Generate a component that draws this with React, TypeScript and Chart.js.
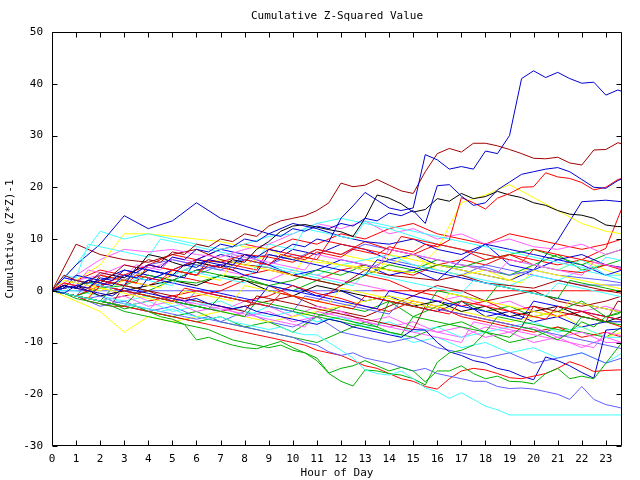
import { useEffect, useRef } from 'react';
import { Chart, registerables } from 'chart.js';

Chart.register(...registerables);

// ---------- DATA ----------
const fineHours = [0, 0.5, 1, 1.5, 2, 2.5, 3, 3.5, 4, 4.5, 5, 5.5, 6, 6.5, 7, 7.5, 8, 8.5, 9, 9.5, 10, 10.5, 11, 11.5,
  12, 12.5, 13, 13.5, 14, 14.5, 15, 15.5, 16, 16.5, 17, 17.5, 18, 18.5, 19, 19.5, 20, 20.5, 21, 21.5, 22, 22.5, 23, 23.5, 23.67];
const coarseHours = [0, 1, 2, 3, 4, 5, 6, 7, 8, 9, 10, 11, 12, 13, 14, 15, 16, 17, 18, 19, 20, 21, 22, 23, 23.67];

const topBlue = [0, 1, 0.5, 2, 1.5, 1, 3, 2.5, 4, 3.5, 3, 5, 4.5, 6, 5.5, 5, 7, 6.5, 8, 7.5, 9, 8.5, 10, 9.5,
  14, 16.4, 19, 17.5, 16, 15.5, 16, 26.3, 25.3, 23.5, 24, 23.5, 27, 26.5, 30, 41, 42.5, 41.2, 42.2, 41, 40.1, 40.3, 37.8, 38.8, 38.5];
const topDarkRed = [0, 3, 2, 1.5, 3.5, 3, 5, 4.5, 6, 5.5, 7.5, 7, 9, 8.5, 10, 9.5, 11, 10.5, 12.5, 13.5, 14, 14.5, 15.5, 17,
  20.8, 20.1, 20.4, 21.5, 20.4, 19.3, 18.8, 23, 26.5, 27.5, 26.8, 28.5, 28.5, 28, 27.3, 26.5, 25.6, 25.5, 25.8, 24.7, 24.3, 27.2, 27.3, 28.6, 28.4];
const upperBlue = [0, -0.5, 1, 0.5, 2.5, 2, 4, 3.5, 5, 4.5, 6.5, 6, 8, 7.5, 9, 8.5, 10, 9.5, 11, 10.5, 12, 11.5, 12.5, 12,
  13, 12.5, 14, 13.5, 15, 14.5, 15.5, 13, 20.3, 20.5, 18.3, 16.5, 17, 19.5, 21, 22.5, 23, 23.5, 23.8, 23, 21.5, 20, 19.8, 21.3, 21.6];
const upperRed = [0, 1.5, 1, 0.5, 2, 1.5, 1, 3, 2.5, 2, 4, 3.5, 3, 5, 4.5, 4, 6, 5.5, 5, 7, 6.5, 6, 7.5, 7,
  6.5, 8, 7.5, 7, 8.5, 8, 7.5, 9, 8.5, 9.8, 18, 17, 15.8, 17.9, 18.8, 20, 20.1, 22.8, 22, 21.7, 20.9, 19.5, 20, 21.5, 21.7];
const upperBlack = [0, 1, 0.5, 2, 1.5, 3, 2.5, 4, 7, 6.5, 5.5, 4.8, 5.5, 5, 4.5, 6, 5.5, 8, 9.5, 11.5, 12.5, 12.8, 12.3, 11.8,
  11.4, 10.5, 14, 18.5, 17.9, 16.8, 15.2, 15.7, 17.8, 17.3, 18.8, 17.8, 18.2, 19.2, 18.5, 18, 17, 16.5, 15.5, 14.8, 14.6, 14, 12.7, 12.4, 12.4];
const lowCyan = [0, -0.5, -1, -1.5, -2, -1.5, -2.5, -3, -3.5, -4, -3.5, -4.5, -5, -5.5, -5, -6, -6.5, -7, -7.5, -7, -8, -8.5, -8.5, -10,
  -11.5, -13, -15.3, -16, -16.3, -15.5, -17, -18.8, -19.5, -20.8, -19.7, -21, -22.3, -23, -24, -24, -24, -24, -24, -24, -24, -24, -24, -24, -24];
const lowGreenA = [0, -0.5, -1, -1.5, -2, -2.5, -3.5, -3, -4, -5, -5.5, -6.5, -7, -7.5, -8.5, -9.5, -10, -10.5, -11, -10.5, -11.5, -12, -13.5, -16,
  -17.5, -18.4, -15.3, -15.5, -16, -16.3, -17, -18.2, -13.8, -12, -11.5, -10.5, -8, -8.5, -9, -7, -7.5, -8.5, -9.5, -8, -6, -7, -5, -4.5, -4];
const lowGreenB = [0, -0.5, -1.5, -2, -2.5, -3, -4, -4.5, -5, -5.5, -6, -6.5, -9.5, -9, -9.8, -10.5, -11, -11.2, -10.5, -9.8, -11, -12, -13, -15.9,
  -15, -14.5, -13.5, -14.5, -15.5, -14.8, -15.5, -17.6, -15.5, -15.5, -14.5, -16, -17, -16.5, -17.5, -17.6, -18, -16, -15, -17, -16.5, -17, -14, -11, -10];
const lowLightBlue = [0, -0.5, -1, -1.5, -1, -2, -2.5, -3, -3.5, -4, -4.5, -5, -5.5, -5, -6, -6.5, -7, -7.5, -8, -8.5, -9, -10, -10.5, -11.8,
  -12.5, -12, -13, -13.5, -14, -14.8, -15.5, -15, -16, -16.5, -17, -17.5, -17.5, -18.5, -18.9, -18.8, -19, -19.5, -20, -21, -18.5, -21, -22, -22.5, -22.7];
const lowRed = [0, -0.5, -1, -2, -2.5, -3, -3, -3.5, -4, -4.5, -5, -5.5, -6, -6.5, -7, -7.5, -8, -8.5, -9, -9.5, -10, -10.5, -11.5, -12,
  -12.5, -13.5, -14.5, -15, -16, -17, -17.5, -18.5, -19, -17, -15.5, -15, -15.3, -16, -16.8, -17, -16.5, -16, -15, -13.7, -14.5, -15.6, -15.4, -15.3, -15.3];
const lowDarkBlue = [0, 1, 0.5, 0, -0.5, -1, 0.5, 0, -0.5, -1, -1.5, -2, -1.5, -2.5, -3, -3.5, -3, -4, -4.5, -5, -5.5, -6, -6.5, -5.5,
  -6, -7, -7.5, -8, -8.5, -9, -7.5, -7.6, -10, -11.8, -12.5, -13.5, -14, -15, -15.5, -16.5, -17.2, -12.8, -13.5, -14.5, -15.8, -16.9, -7.6, -7.4, -7.3];

const midMagenta = [0, 1.5, 1, 4, 3.5, 3, 2.5, 5, 4.5, 4, 6.5, 6, 5.5, 5, 4.5, 7, 6.5, 6, 5.5, 5, 4.5, 4, 7, 6.5,
  6, 5.5, 5, 4.5, 8, 7.5, 7, 6.5, 6, 5.5, 5, 4.5, 4, 3.5, 6, 5.5, 5, 4.5, 4, 3.5, 3, 5.5, 5, 4.5, 4.3];
const midCyan = [0, -0.5, 2, 1.5, 1, 0.5, 3, 2.5, 2, 1.5, 1, 4, 3.5, 3, 2.5, 2, 1.5, 5, 4.5, 4, 3.5, 3, 2.5, 2,
  1.5, 1, 3.5, 3, 2.5, 2, 1.5, 1, 0.5, 0, -0.5, 2, 1.5, 1, 0.5, 0, -0.5, -1, 1.5, 1, 0.5, 0, -0.5, -1, -1.2];
const midRed = [0, -0.5, -1, -1.5, 1, 0.5, 0, -0.5, -1, -1.5, -2, 0.5, 0, -0.5, -1, -1.5, -2, -2.5, -3, -0.5, -1, -1.5, -2, -2.5,
  -3, -3.5, -1, -1.5, -2, -2.5, -3, -3.5, -4, -4.5, -2, -2.5, -3, -3.5, -4, -4.5, -5, -5.5, -3, -3.5, -4, -4.5, -5, -5.5, -5.7];
const midYellow = [0, 2, 1.5, 1, 0.5, 0, -0.5, -1, -1.5, -2, -2.5, 0, -0.5, -1, -1.5, -2, 1, 0.5, 0, -0.5, -1, -1.5, -2, -2.5,
  0.5, 0, -0.5, -1, -1.5, -2, -2.5, -3, -3.5, -0.5, -1, -1.5, -2, -2.5, -3, -3.5, -4, -4.5, -5, -2, -2.5, -3, -3.5, -4, -4.2];
const midGreen = [0, -0.5, -1, -1.5, -2, -2.5, -3, -0.5, -1, -1.5, -2, -2.5, -3, -3.5, -4, -4.5, -5, -2, -2.5, -3, -3.5, -4, -4.5, -5,
  -5.5, -6, -6.5, -7, -2, -2.5, -3, -3.5, 0, -0.5, -1, -1.5, -2, 1, 0.5, 0, -0.5, -1, -1.5, 2, 1.5, 1, 0.5, 0, -0.2];
const midDarkBlue = [0, 0.5, 3, 2.5, 2, 1.5, 1, 4.5, 4, 3.5, 3, 2.5, 6, 5.5, 5, 4.5, 4, 3.5, 7, 6.5, 6, 5.5, 5, 4.5,
  4, 3.5, 3, 6, 5.5, 5, 4.5, 4, 3.5, 3, 2.5, 2, 1.5, 1, 0.5, 0, -0.5, -1, -1.5, -2, -2.5, -3, -3.5, -4, -4.2];
const lowMagenta = [0, -0.5, -1, -1.5, -2, -2.5, -3, -3.5, -4, -1, -1.5, -2, -2.5, -3, -3.5, -4, -4.5, -5, -5.5, -6, -6.5, -7, -4, -4.5,
  -5, -5.5, -6, -6.5, -7, -7.5, -8, -8.5, -9, -9.5, -10, -6, -6.5, -7, -7.5, -8, -8.5, -9, -9.5, -10, -10.5, -11, -8, -8.5, -8.7];
const highCyan = [0, 3, 2.5, 9, 8.5, 8, 7.5, 7, 6.5, 10, 9.5, 9, 8.5, 8, 7.5, 7, 6.5, 6, 9, 8.5, 8, 12, 11.5, 11,
  10.5, 10, 13.5, 13, 12.5, 12, 11.5, 11, 10.5, 10, 9.5, 9, 8.5, 8, 7.5, 7, 6.5, 6, 5.5, 5, 4.5, 4, 6.5, 6, 5.8];
const highRed = [0, 1, 0.5, 0, 3, 2.5, 2, 1.5, 5, 4.5, 4, 3.5, 3, 6, 5.5, 5, 4.5, 4, 8, 7.5, 7, 6.5, 6, 9.5,
  9, 8.5, 8, 7.5, 7, 10.5, 10, 9.5, 9, 8.5, 8, 7.5, 7, 6.5, 6, 5.5, 8, 7.5, 7, 6.5, 6, 5.5, 5, 4.5, 4.3];
const midLightBlue = [0, -0.5, -1, 1.5, 1, 0.5, 0, -0.5, -1, -1.5, -2, -2.5, 0, -0.5, -1, -1.5, -2, -2.5, -3, -3.5, -4, -1, -1.5, -2,
  -2.5, -3, -3.5, -4, -4.5, -2, -2.5, -3, -3.5, -4, -4.5, -5, -5.5, -6, -6.5, -7, -7.5, -8, -8.5, -9, -9.5, -10, -10.5, -11, -11.2];
const midGreenB = [0, -0.5, -1, -1.5, -2, 0.5, 0, -0.5, -1, -1.5, -2, -2.5, -3, -3.5, -1, -1.5, -2, -2.5, -3, -3.5, -4, -4.5, -5, -5.5,
  -6, -6.5, -7, -7.5, -8, -8.5, -5, -5.5, -6, -6.5, -7, -7.5, -8, -5, -5.5, -6, -6.5, -7, -7.5, -8, -5, -5.5, -6, -6.5, -6.6];
const midDarkRed = [0, -0.5, -1, -1.5, -2, -2.5, 1, 0.5, 0, -0.5, -1, -1.5, -2, -2.5, -3, -3.5, -4, -1, -1.5, -2, -2.5, -3, -3.5, -4,
  -4.5, -5, -5.5, -6, -6.5, -7, -7.5, -3, -3.5, -4, -4.5, -5, -5.5, -6, -6.5, -7, -3, -3.5, -4, -4.5, -5, -5.5, -6, -2, -2.2];
const midBlue = [0, 2.5, 2, 1.5, 1, 0.5, 0, -0.5, 2.5, 2, 1.5, 1, 0.5, 0, -0.5, -1, -1.5, -2, 1, 0.5, 0, -0.5, -1, -1.5,
  -2, -2.5, -3, -3.5, 0, -0.5, -1, -1.5, -2, -2.5, -3, -3.5, -4, -4.5, -5, -5.5, -2, -2.5, -3, -3.5, -4, -4.5, -5, -5.5, -5.6];
const highYellow = [0, -0.5, -1, -1.5, 3, 2.5, 2, 1.5, 1, 0.5, 4, 3.5, 3, 2.5, 2, 5.5, 5, 4.5, 4, 3.5, 3, 6.5, 6, 5.5,
  5, 4.5, 4, 3.5, 7, 6.5, 6, 5.5, 5, 4.5, 4, 3.5, 3, 2.5, 2, 1.5, 4, 3.5, 3, 2.5, 2, 1.5, 1, 0.5, 0.4];

const flatBlueHours = [0, 13.3];
const flatBlueValues = [0, 0];
const flatRedHours = [13.3, 23.67];
const flatRedValues = [0, 0];

const bg01 = [0, 5, 9, 14.5, 12, 13.5, 17, 14, 12.5, 11, 13, 12, 10.5, 9.5, 9, 10, 8, 7, 9, 8, 7, 6, 7, 5, 4.5];
const bg02 = [0, 5, 11.5, 10, 11, 10, 9, 8, 9, 10.5, 11, 13, 14, 13, 12, 10.5, 9, 8, 7, 6, 5, 4, 6, 3, 3];
const bg03 = [0, 2, 5, 11, 11, 10.5, 10, 9.5, 8.5, 8, 6, 5.5, 5, 4.5, 4, 3.5, 8, 17, 18.5, 20.5, 18, 15.5, 13, 11.5, 11];
const bg04 = [0, 3, 6, 8, 7.5, 8, 7, 6.5, 8, 9, 11, 13, 12, 13.5, 11, 12, 10, 11, 9, 10, 8.5, 8, 9, 7, 8];
const bg05 = [0, 2, 1, 3, 5, 4, 6, 5.5, 7, 6.5, 5.5, 8, 7, 9.5, 8, 7, 9, 8, 6, 7, 5, 4, 3.5, 5, 4];
const bg06 = [0, -1, 0.5, 1, 0, 2, 1.5, 3, 2.5, 1, 2, 4, 3, 5, 4, 3.5, 5, 4.5, 6, 7, 8, 6.5, 5, 7, 8];
const bg07 = [0, 1, 3, 2, 5, 6, 5, 4, 6, 7, 6, 8, 7, 9, 8, 7, 6, 5, 4.5, 3, 4, 3, 2.5, 2, 1.5];
const bg08 = [0, 9, 7, 6, 5.5, 7, 8, 6, 5, 4.5, 3, 2, 1, 4, 3, 2.5, 2, 3, 1.5, 1, 0.5, 2, 1, 0, -0.5];
const bg09 = [0, 1, -1, 0, 1, 2, 1, 3, 2, 0, -1, 1, 0, -1, -2, -3, -2, -4, -3, -5, -4, -3, -5, -6, -5];
const bg10 = [0, -1, -2, -1, -3, -2, -4, -3, -5, -4, -6, -5, -4, -6, -7, -6, -8, -7, -9, -8, -7, -9, -8, -10, -10];
const bg11 = [0, -1, -2, -3, -2, -4, -3, -2, -4, -5, -4, -6, -5, -7, -6, -8, -7, -9, -8, -7, -6, -8, -7, -9, -9];
const bg12 = [0, -2, -4, -8, -5, -6, -5, -4, -5, -6, -5, -4, -3, -2, -1, -2, -3, -4, -5, -6, -5, -4, -7, -9, -8];
const bg13 = [0, -1, -2, -3, -2, -1, 0, -1, -2, -1, 1, -0.5, -1.5, -3, -4, -2, -3, -5, -6, -7, -8, -7, -9, -8, -9];
const bg14 = [0, -1, -2, -3, -4, -5, -6, -5, -7, -6, -8, -5, -3, -4, -2, -5, -3, -2, -4, -3, -5, -4, -2, -5, -4];
const bg15 = [0, 2, 1, 3, 2, 4, 6, 8, 7, 5, 3, 4, 6, 5, 3, 4, 2, 6, 9, 5, 4, 6, 5, 3, 4];
const bg16 = [0, 1, -1, 0, -2, -1, -3, -4, -2, -3, -5, -3, -4, -6, -5, -7, -8, -9, -7, -8, -10, -9, -11, -9, -10];
const bg17 = [0, 3, 2, 1, 4, 3, 5, 4, 6, 5, 4, 3, 5, 6, 7, 5, 4, 3, 2, 1, 3, 2, 4, 3, 2];
const bg18 = [0, -1, -2, -1, 0, -2, -3, -4, -3, -2, -1, -3, -4, -5, -3, -1, 1, 0, -2, -1, 0, -2, -3, -2, -1];
const bg19 = [0, -1, -3, -2, -4, -3, -5, -6, -4, -6, -7, -5, -8, -9, -10, -9, -11, -12, -13, -12, -14, -13, -12, -14, -13];
const bg20 = [0, 1, 2, 1, 3, 2, 4, 3, 2, 1, 0, 2, 1, 3, 5, 4, 6, 5, 4, 3, 5, 7, 4, 5, 6];
const bg21 = [0, 1, 0, 2, 4, 3, 5, 6, 5, 7, 6, 8, 7, 6, 5, 7, 4, 3, 4, 2, 5, 4, 6, 4, 3];
const bg22 = [0, -1, 1, 0, -1, -2, -1, 0, 2, 1, -1, -2, 1, 3, 2, 0, -1, -3, -2, -4, -3, -5, -4, -6, -7];
const bg23 = [0, 1, 2, 4, 3, 2, 4, 5, 3, 2, 1, -1, 0, -2, -1, -3, -4, -2, -5, -4, -6, -5, -7, -6, -6];
const bg24 = [0, 2, 3, 5, 4, 6, 5, 4, 3, 2, 4, 3, 2, 1, 0, -1, -2, -1, -3, -2, -4, -5, -4, -3, -4];
const bg25 = [0, 0, -1, -2, -1, -3, -2, -4, -5, -3, -4, -6, -5, -7, -8, -10, -9, -11, -10, -12, -11, -13, -12, -14, -12];
const bg26 = [0, -1, -2, -3, -4, -5, -4, -6, -7, -8, -9, -10, -8, -6, -8, -9, -7, -6, -8, -10, -9, -7, -8, -9, -7];
const bg27 = [0, 2, 4, 3, 5, 7, 6, 8, 9, 8, 10, 9, 11, 10, 12, 13, 11, 10, 9, 11, 10, 9, 8, 9, 10];
const bg28 = [0, 1, 2, 3, 2, 4, 3, 5, 6, 5, 7, 6, 5, 4, 6, 5, 4, 3, 5, 4, 3, 2, 1.1, 1.1, 1.1];
const bg29 = [0, 1, 3, 2, 4, 3, 5, 7, 6, 5, 8, 7, 9, 8, 6, 7, 5, 4, 3, 2, 4, 9.7, 17.2, 17.5, 17.2];
const bg30 = [0, -1, 1, 2, 1, 3, 2, 1, 3, 4, 3, 2, 4, 5, 4, 3, 5, 6, 5, 7, 6, 5, 6, 8.2, 16];

const yTickLabels = [-30, -20, -10, 0, 10, 20, 30, 40, 50];

// ---------- STYLE ----------
const RED = '#ff0000';
const GREEN = '#00b000';
const DBLUE = '#0000d0';
const LBLUE = '#6060ff';
const MAGENTA = '#ff60ff';
const CYAN = '#40ffff';
const DRED = '#a00000';
const YELLOW = '#ffff00';
const BLACK = '#000000';
const BLUE = '#0000ff';
const FONT = "'DejaVu Sans Mono', 'Liberation Mono', monospace";

const fineSeries: [number[], string][] = [
  [topBlue, DBLUE], [topDarkRed, DRED], [upperBlue, DBLUE], [upperRed, RED], [upperBlack, BLACK],
  [lowCyan, CYAN], [lowGreenA, GREEN], [lowGreenB, GREEN], [lowLightBlue, LBLUE], [lowRed, RED], [lowDarkBlue, DBLUE],
  [midMagenta, MAGENTA], [midCyan, CYAN], [midRed, RED], [midYellow, YELLOW], [midGreen, GREEN], [midDarkBlue, DBLUE],
  [lowMagenta, MAGENTA], [highCyan, CYAN], [highRed, RED], [midLightBlue, LBLUE], [midGreenB, GREEN], [midDarkRed, DRED],
  [midBlue, BLUE], [highYellow, YELLOW],
];
const coarseSeries: [number[], string][] = [
  [bg01, DBLUE], [bg02, CYAN], [bg03, YELLOW], [bg04, MAGENTA], [bg05, RED], [bg06, GREEN], [bg07, LBLUE],
  [bg08, DRED], [bg09, BLACK], [bg10, MAGENTA], [bg11, CYAN], [bg12, YELLOW], [bg13, RED], [bg14, GREEN],
  [bg15, BLUE], [bg16, MAGENTA], [bg17, CYAN], [bg18, DRED], [bg19, LBLUE], [bg20, GREEN], [bg21, YELLOW],
  [bg22, RED], [bg23, DBLUE], [bg24, MAGENTA], [bg25, CYAN], [bg26, GREEN], [bg27, RED], [bg28, LBLUE],
  [bg29, DBLUE], [bg30, RED],
];

function toPoints(xs: number[], ys: number[]) {
  return ys.map((v, i) => ({ x: xs[i], y: v }));
}

const framePlugin = {
  id: 'gnuFrame',
  afterDatasetsDraw(chart: any) {
    const { ctx, chartArea, scales } = chart;
    const L = Math.round(chartArea.left) + 0.5;
    const R = Math.round(chartArea.right) - 0.5;
    const T = Math.round(chartArea.top) + 0.5;
    const B = Math.round(chartArea.bottom) - 0.5;
    ctx.save();
    ctx.strokeStyle = '#000';
    ctx.lineWidth = 1;
    ctx.beginPath();
    ctx.rect(L, T, R - L, B - T);
    const tl = 5;
    scales.x.ticks.forEach((t: any) => {
      const px = Math.round(scales.x.getPixelForValue(t.value)) + 0.5;
      ctx.moveTo(px, B); ctx.lineTo(px, B - tl);
      ctx.moveTo(px, T); ctx.lineTo(px, T + tl);
    });
    scales.y.ticks.forEach((t: any) => {
      const py = Math.round(scales.y.getPixelForValue(t.value)) + 0.5;
      ctx.moveTo(L, py); ctx.lineTo(L + tl, py);
      ctx.moveTo(R, py); ctx.lineTo(R - tl, py);
    });
    ctx.stroke();
    ctx.restore();
  },
};

export default function App() {
  const ref = useRef<HTMLCanvasElement | null>(null);
  useEffect(() => {
    if (!ref.current) return;
    const datasets: any[] = [];
    fineSeries.forEach(([vals, color]) => datasets.push({ data: toPoints(fineHours, vals), borderColor: color }));
    coarseSeries.forEach(([vals, color]) => datasets.push({ data: toPoints(coarseHours, vals), borderColor: color }));
    datasets.push({ data: toPoints(flatBlueHours, flatBlueValues), borderColor: LBLUE });
    datasets.push({ data: toPoints(flatRedHours, flatRedValues), borderColor: RED });
    datasets.forEach((d) => {
      d.borderWidth = 1;
      d.pointRadius = 0;
      d.tension = 0;
      d.fill = false;
    });
    const font = { family: FONT, size: 11, weight: 'normal' as const };
    const chart = new Chart(ref.current, {
      type: 'line',
      data: { datasets },
      plugins: [framePlugin],
      options: {
        animation: false,
        responsive: false,
        maintainAspectRatio: false,
        layout: { padding: { left: 0, right: 18, top: 0, bottom: 0 } },
        plugins: {
          legend: { display: false },
          tooltip: { enabled: false },
          title: {
            display: true,
            text: 'Cumulative Z-Squared Value',
            fullSize: false,
            color: '#000',
            font: { ...font, lineHeight: 1 },
            padding: { top: 11, bottom: 10 },
          },
        },
        scales: {
          x: {
            type: 'linear',
            min: 0,
            max: 23.67,
            grid: { display: false, drawTicks: false },
            border: { display: false },
            ticks: {
              stepSize: 1,
              includeBounds: false,
              autoSkip: false,
              maxRotation: 0,
              color: '#000',
              font,
              padding: 7,
              callback: (v: any) => String(v),
            },
            title: { display: true, text: 'Hour of Day', color: '#000', font, padding: 0 },
            afterFit: (s: any) => { s.height = 34; },
          },
          y: {
            type: 'linear',
            min: yTickLabels[0],
            max: yTickLabels[yTickLabels.length - 1],
            grid: { display: false, drawTicks: false },
            border: { display: false },
            ticks: { stepSize: 10, color: '#000', font, padding: 9 },
            title: { display: true, text: 'Cumulative (Z*Z)-1', color: '#000', font, padding: { top: 4, bottom: 0 } },
            afterFit: (s: any) => { s.width = 52; },
          },
        },
      },
    });
    return () => chart.destroy();
  }, []);
  return (
    <div style={{ position: 'absolute', left: 0, top: 0, width: 640, height: 480, background: '#fff' }}>
      <canvas ref={ref} width={640} height={480} />
    </div>
  );
}
